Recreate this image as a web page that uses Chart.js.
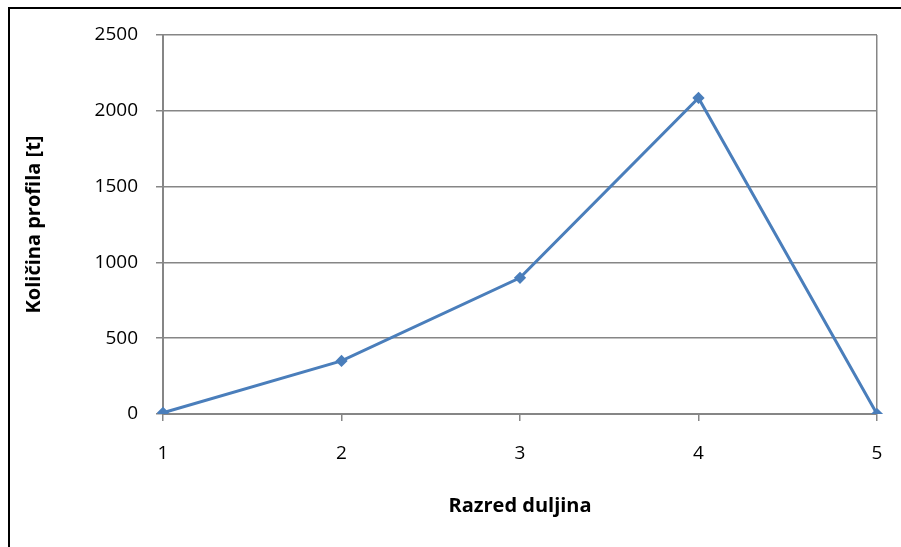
<!DOCTYPE html>
<html>
<head>
<meta charset="utf-8">
<script src="https://cdn.jsdelivr.net/npm/chart.js@4/dist/chart.umd.min.js"></script>
<style>
  html, body { margin: 0; padding: 0; background: #fff; overflow: hidden; }
  #wrap { width: 901px; height: 547px; }
</style>
</head>
<body>
<div id="wrap"><canvas id="lineChart" width="901" height="547"></canvas></div>
<script>
// podaci
var razredi = ['1', '2', '3', '4', '5'];
var kolicina = [8, 350, 898, 2085, 0];
var yTicks = [0, 500, 1000, 1500, 2000, 2500];

var gridGrey = '#868686';

// okvir oko cijelog grafikona (vidi se samo gore i lijevo)
var frame = {
    id: 'frame',
    beforeDraw: function (chart) {
        var ctx = chart.ctx;
        ctx.save();
        ctx.fillStyle = '#fff';
        ctx.fillRect(0, 0, chart.width, chart.height);
        ctx.strokeStyle = '#000';
        ctx.lineWidth = 2;
        ctx.strokeRect(9, 8, 1000, 1000);
        ctx.restore();
    }
};

var ctx = document.getElementById('lineChart').getContext('2d');
var chart = new Chart(ctx, {
    type: 'line',
    data: {
        labels: razredi,
        datasets: [{
            data: kolicina,
            borderColor: '#4A7EBB',
            backgroundColor: '#4A7EBB',
            borderWidth: 3,
            pointStyle: 'rectRot',
            pointRadius: 4,
            pointHoverRadius: 4,
            tension: 0
        }]
    },
    options: {
        responsive: false,
        animation: false,
        layout: { padding: { left: 18, top: 35, right: 24, bottom: 25 } },
        plugins: { legend: { display: false }, tooltip: { enabled: false } },
        scales: {
            x: {
                offset: false,
                grid: {
                    color: function (c) { return c.index === razredi.length - 1 ? gridGrey : 'rgba(0,0,0,0)'; },
                    tickColor: gridGrey,
                    tickLength: 7,
                    lineWidth: 1.5
                },
                border: { color: gridGrey, width: 2 },
                ticks: { color: '#000', font: { family: 'Open Sans', size: 19 }, padding: 21, maxRotation: 0 },
                title: {
                    display: true,
                    text: 'Razred duljina',
                    color: '#000',
                    font: { family: 'Open Sans', size: 20, weight: 'bold' },
                    padding: { top: 22 }
                },
                afterFit: function (s) { s.height = 108; s.paddingLeft = 0; s.paddingRight = 0; }
            },
            y: {
                min: 0,
                max: 2500,
                afterBuildTicks: function (s) { s.ticks = yTicks.map(function (v) { return { value: v }; }); },
                grid: { color: gridGrey, tickColor: gridGrey, tickLength: 7, lineWidth: 1.5 },
                border: { color: gridGrey, width: 2 },
                ticks: {
                    color: '#000',
                    font: { family: 'Open Sans', size: 19 },
                    padding: 18,
                    callback: function (v) { return String(v); }
                },
                title: {
                    display: true,
                    text: 'Količina profila [t]',
                    color: '#000',
                    font: { family: 'Open Sans', size: 20, weight: 'bold' },
                    padding: { bottom: 0 }
                },
                afterFit: function (s) { s.width = 145; }
            }
        }
    },
    plugins: [frame]
});
</script>
</body>
</html>
